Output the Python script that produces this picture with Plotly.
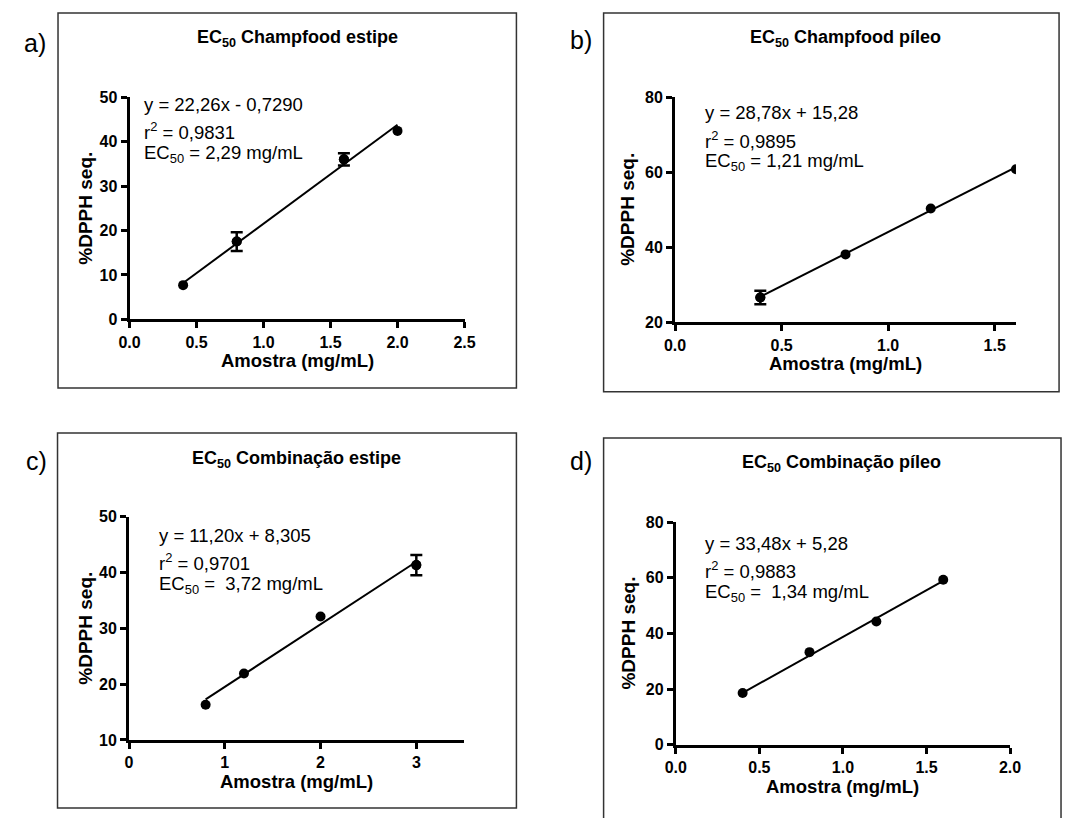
import plotly.graph_objects as go

W, H = 1073, 818
FONT = "Arial, Liberation Sans, sans-serif"


def px(x):
    return x / W


def py(y):
    return 1 - y / H


# ---------------- data ----------------
panel_letters = ["a)", "b)", "c)", "d)"]
titles = ["EC<sub>50</sub> Champfood estipe", "EC<sub>50</sub> Champfood píleo",
          "EC<sub>50</sub> Combinação estipe", "EC<sub>50</sub> Combinação píleo"]

a_x = [0.4, 0.8, 1.6, 2.0]
a_y = [7.7, 17.5, 36.0, 42.4]
a_err = [0, 2.1, 1.4, 0]
a_slope, a_icpt = 22.26, -0.7290
a_text = ["y = 22,26x - 0,7290", "r<sup>2</sup> = 0,9831", "EC<sub>50</sub> = 2,29 mg/mL"]

b_x = [0.4, 0.8, 1.2, 1.6]
b_y = [26.6, 38.1, 50.3, 60.8]
b_err = [1.8, 0, 0, 0]
b_slope, b_icpt = 28.78, 15.28
b_text = ["y = 28,78x + 15,28", "r<sup>2</sup> = 0,9895", "EC<sub>50</sub> = 1,21 mg/mL"]

c_x = [0.8, 1.2, 2.0, 3.0]
c_y = [16.3, 21.9, 32.1, 41.3]
c_err = [0, 0, 0, 1.8]
c_slope, c_icpt = 11.20, 8.305
c_text = ["y = 11,20x + 8,305", "r<sup>2</sup> = 0,9701", "EC<sub>50</sub> =  3,72 mg/mL"]

d_x = [0.4, 0.8, 1.2, 1.6]
d_y = [18.6, 33.3, 44.3, 59.3]
d_err = [0, 0, 0, 0]
d_slope, d_icpt = 33.48, 5.28
d_text = ["y = 33,48x + 5,28", "r<sup>2</sup> = 0,9883", "EC<sub>50</sub> =  1,34 mg/mL"]

x_ranges = [[0, 2.5], [0, 1.6], [0, 3.5], [0, 2.0]]
x_ticks = [[0, 0.5, 1.0, 1.5, 2.0, 2.5], [0, 0.5, 1.0, 1.5], [0, 1, 2, 3], [0, 0.5, 1.0, 1.5, 2.0]]
x_ticklabels = [["0.0", "0.5", "1.0", "1.5", "2.0", "2.5"], ["0.0", "0.5", "1.0", "1.5"],
                ["0", "1", "2", "3"], ["0.0", "0.5", "1.0", "1.5", "2.0"]]
y_ranges = [[0, 50], [20, 80], [10, 50], [0, 80]]
y_ticks = [[0, 10, 20, 30, 40, 50], [20, 40, 60, 80], [10, 20, 30, 40, 50], [0, 20, 40, 60, 80]]
x_title = "Amostra (mg/mL)"
y_title = "%DPPH seq."

# ---------------- layout geometry (pixels) ----------------
# plot area: x0, x1, ytop, ybottom
areas = [(121, 463, 91, 318), (678, 1026, 91, 321), (120.5, 462.7, 519.3, 747.5), (678.7, 1020, 525, 752.5)]
boxes = [(48, 5, 516, 388), (605, 5, 1070, 392), (47.5, 434, 516, 817), (605, 439, 1072, 830)]
letter_pos = [(24, 36), (582, 33), (26, 463), (582, 463)]
title_pos = [(292, 31), (852, 31), (291, 461), (848, 465)]
text_pos = [(134, [99, 126, 149]), (706.5, [107, 135, 157]), (149.5, [539, 566, 589]), (706.5, [547, 574, 597])]
xtitle_y = [360, 363, 790, 795]
ytitle_x = [76, 630, 76, 630]

datasets = [(a_x, a_y, a_err, a_slope, a_icpt, a_text),
            (b_x, b_y, b_err, b_slope, b_icpt, b_text),
            (c_x, c_y, c_err, c_slope, c_icpt, c_text),
            (d_x, d_y, d_err, d_slope, d_icpt, d_text)]

fig = go.Figure()
layout = dict(width=W, height=H, margin=dict(l=0, r=0, t=0, b=0),
              paper_bgcolor="white", plot_bgcolor="white", showlegend=False,
              font=dict(family=FONT, color="black", size=15))
annotations = []
shapes = []

for i, (xs, ys, errs, slope, icpt, texts) in enumerate(datasets):
    n = "" if i == 0 else str(i + 1)
    xa, ya = "x" + n, "y" + n
    x0, x1, yt, yb = areas[i]
    layout["xaxis" + n] = dict(domain=[px(x0), px(x1)], anchor=ya, range=x_ranges[i],
                               tickmode="array", tickvals=x_ticks[i],
                               ticktext=["<b>" + t + "</b>" for t in x_ticklabels[i]],
                               showline=True, linecolor="black", linewidth=3,
                               ticks="outside", ticklen=6, tickwidth=2.5, tickcolor="black",
                               showgrid=False, zeroline=False,
                               tickfont=dict(family=FONT, size=16, color="black"))
    layout["yaxis" + n] = dict(domain=[py(yb), py(yt)], anchor=xa, range=y_ranges[i],
                               tickmode="array", tickvals=y_ticks[i],
                               ticktext=["<b>%d</b>" % v for v in y_ticks[i]],
                               showline=True, linecolor="black", linewidth=3,
                               ticks="outside", ticklen=6, tickwidth=2.5, tickcolor="black",
                               showgrid=False, zeroline=False,
                               tickfont=dict(family=FONT, size=16, color="black"))
    # regression line
    lx = [min(xs), max(xs)]
    ly = [slope * v + icpt for v in lx]
    fig.add_trace(go.Scatter(x=lx, y=ly, mode="lines", line=dict(color="black", width=2),
                             xaxis=xa, yaxis=ya, hoverinfo="skip"))
    # points
    fig.add_trace(go.Scatter(x=xs, y=ys, mode="markers", marker=dict(color="black", size=10),
                             xaxis=xa, yaxis=ya))
    ex = [xv for xv, e in zip(xs, errs) if e > 0]
    ey = [yv for yv, e in zip(ys, errs) if e > 0]
    ee = [e for e in errs if e > 0]
    if ex:
        fig.add_trace(go.Scatter(x=ex, y=ey, mode="markers", marker=dict(color="black", size=10),
                                 error_y=dict(type="data", array=ee, visible=True, color="black",
                                              thickness=2.5, width=6),
                                 xaxis=xa, yaxis=ya))
    # panel box
    bx0, by0, bx1, by1 = boxes[i]
    shapes.append(dict(type="rect", xref="paper", yref="paper", x0=px(bx0), x1=px(bx1),
                       y0=py(by1), y1=py(by0), line=dict(color="#333333", width=1.5),
                       fillcolor="rgba(0,0,0,0)", layer="below"))
    # panel letter
    lx_, ly_ = letter_pos[i]
    annotations.append(dict(text=panel_letters[i], x=px(lx_), y=py(ly_), xref="paper", yref="paper",
                            xanchor="center", yanchor="middle", showarrow=False,
                            font=dict(family=FONT, size=25, color="black")))
    # title
    tx, ty = title_pos[i]
    annotations.append(dict(text="<b>" + titles[i] + "</b>", x=px(tx), y=py(ty), xref="paper",
                            yref="paper", xanchor="center", yanchor="middle", showarrow=False,
                            font=dict(family=FONT, size=18, color="black")))
    # equation text
    ex0, eys = text_pos[i]
    for t, yy in zip(texts, eys):
        annotations.append(dict(text=t, x=px(ex0), y=py(yy), xref="paper", yref="paper",
                                xanchor="left", yanchor="middle", showarrow=False,
                                font=dict(family=FONT, size=18.5, color="black")))
    # axis titles
    annotations.append(dict(text="<b>" + x_title + "</b>", x=px((x0 + x1) / 2), y=py(xtitle_y[i]),
                            xref="paper", yref="paper", xanchor="center", yanchor="middle",
                            showarrow=False, font=dict(family=FONT, size=18.5, color="black")))
    annotations.append(dict(text="<b>" + y_title + "</b>", x=px(ytitle_x[i]), y=py((yt + yb) / 2),
                            xref="paper", yref="paper", xanchor="center", yanchor="middle",
                            textangle=-90, showarrow=False,
                            font=dict(family=FONT, size=19, color="black")))

layout["annotations"] = annotations
layout["shapes"] = shapes
fig.update_layout(**layout)
fig.write_html("out.html")
